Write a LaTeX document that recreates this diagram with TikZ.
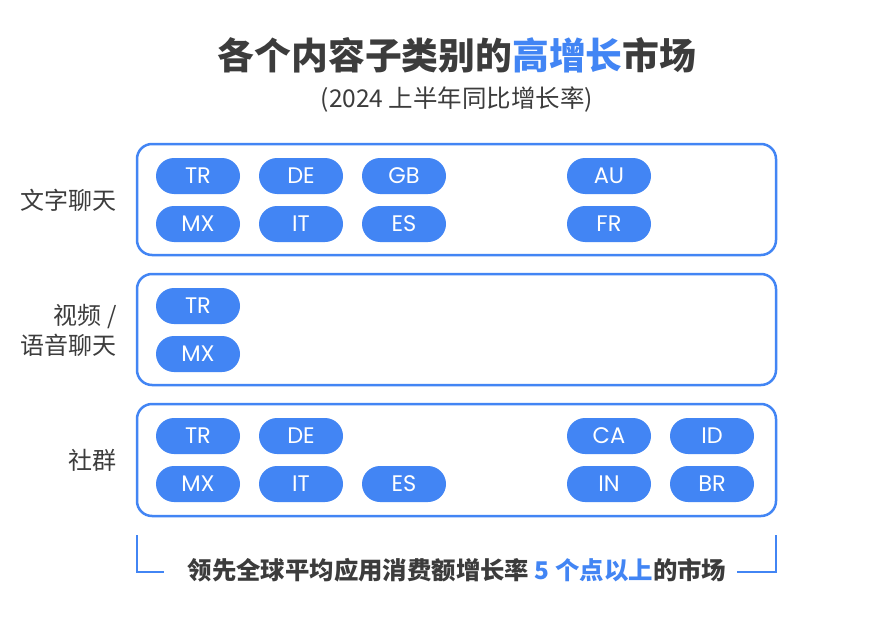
\documentclass[tikz,border=0pt]{standalone}
\usepackage{fontspec}
\setmainfont{Noto Sans CJK SC}
\newfontfamily\pillfont{Poppins}
\definecolor{gblue}{HTML}{4285F4}
\definecolor{dgray}{HTML}{3C3C3C}
\tikzset{
  panel/.style={draw=gblue, line width=2.5pt, rounded corners=15pt},
  pill/.style={fill=gblue, rounded corners=18pt, minimum width=84pt, minimum height=36pt, inner sep=0pt, text=white, font=\pillfont\fontsize{22.5}{22.5}\selectfont},
  rowlabel/.style={anchor=east, text=dgray, font=\fontsize{24}{30}\selectfont, align=right},
  bracket/.style={draw=gblue, line width=1.5pt}
}
\begin{document}
\begin{tikzpicture}[x=1pt,y=-1pt]
\useasboundingbox[fill=white] (0,0) rectangle (894,618);
\node[text=dgray, font=\fontsize{36.8}{36.8}\selectfont\bfseries] (title) at (457,55) {各个内容子类别的\textcolor{gblue}{高增长}市场};
\node[text=dgray, font=\fontsize{24.5}{24.5}\selectfont] (sub) at (457,100) {(2024 上半年同比增长率)};
\draw[panel] (137,144) rectangle (776,255);
\draw[panel] (137,274) rectangle (776,385);
\draw[panel] (137,404) rectangle (776,516);
\node[rowlabel] (l1) at (120,200) {文字聊天};
\node[rowlabel] (l2) at (120,330) {视频 /\\语音聊天};
\node[rowlabel] (l3) at (120,460) {社群};
% row group 1
\node[pill] (a1) at (198,176) {TR};
\node[pill] (a2) at (301,176) {DE};
\node[pill] (a3) at (404,176) {GB};
\node[pill] (a4) at (609,176) {AU};
\node[pill] (a5) at (198,224) {MX};
\node[pill] (a6) at (301,224) {IT};
\node[pill] (a7) at (404,224) {ES};
\node[pill] (a8) at (609,224) {FR};
% row group 2
\node[pill] (b1) at (198,306) {TR};
\node[pill] (b2) at (198,354) {MX};
% row group 3
\node[pill] (c1) at (198,436) {TR};
\node[pill] (c2) at (301,436) {DE};
\node[pill] (c3) at (609,436) {CA};
\node[pill] (c4) at (712,436) {ID};
\node[pill] (c5) at (198,484) {MX};
\node[pill] (c6) at (301,484) {IT};
\node[pill] (c7) at (404,484) {ES};
\node[pill] (c8) at (609,484) {IN};
\node[pill] (c9) at (712,484) {BR};
% bottom note
\node[text=dgray, font=\fontsize{24.4}{24.4}\selectfont\bfseries] (note) at (457,570) {领先全球平均应用消费额增长率 \textcolor{gblue}{5 个点以上}的市场};
\coordinate (bl1) at (137,535);
\coordinate (bl2) at (137,572);
\coordinate (bl3) at (164,572);
\coordinate (br1) at (776,535);
\coordinate (br2) at (776,572);
\coordinate (br3) at (737,572);
\draw[bracket] (bl1) -- (bl2) -- (bl3);
\draw[bracket] (br1) -- (br2) -- (br3);
\end{tikzpicture}
\end{document}
